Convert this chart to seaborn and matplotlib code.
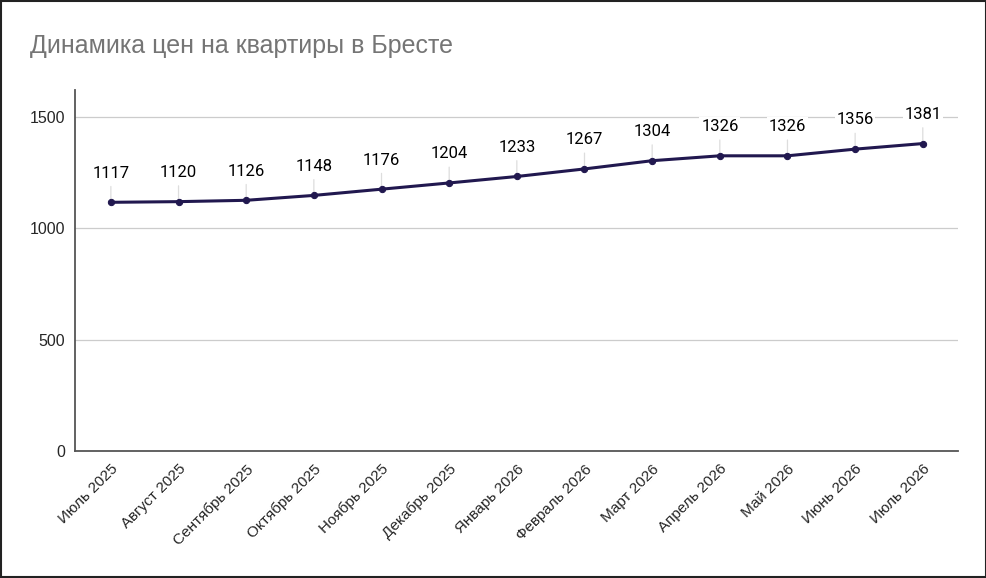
import matplotlib
matplotlib.use("Agg")
import matplotlib.pyplot as plt
import seaborn as sns
import pandas as pd

# ---------------------------------------------------------
# Data
# ---------------------------------------------------------
months = [
    "Июль 2025", "Август 2025", "Сентябрь 2025", "Октябрь 2025",
    "Ноябрь 2025", "Декабрь 2025", "Январь 2026", "Февраль 2026",
    "Март 2026", "Апрель 2026", "Май 2026", "Июнь 2026", "Июль 2026",
]
prices = [1117, 1120, 1126, 1148, 1176, 1204, 1233, 1267, 1304, 1326, 1326, 1356, 1381]
y_ticks = [0, 500, 1000, 1500]

df = pd.DataFrame({"month": months, "price": prices})
df["x"] = range(len(df))

sns.set_theme(style="white")
plt.rcParams["font.family"] = ["Liberation Sans", "DejaVu Sans"]

line_color = "#21184f"

fig = plt.figure(figsize=(9.87, 5.78), dpi=100)
ax = fig.add_axes([0.076, 0.22, 0.8946, 0.624])

sns.lineplot(data=df, x="x", y="price", ax=ax, color=line_color,
             linewidth=2.2, marker="o", markersize=4.5,
             markeredgecolor=line_color, zorder=3)

# data labels with leader lines
for xi, yi in zip(df["x"], df["price"]):
    ax.annotate(str(yi), xy=(xi, yi), xytext=(0, 21), textcoords="offset points",
                ha="center", va="center", fontsize=12, family="Roboto",
                color="black",
                bbox=dict(boxstyle="square,pad=0.1", fc="white", ec="none"),
                arrowprops=dict(arrowstyle="-", color="#dddddd", lw=0.9,
                                shrinkA=3, shrinkB=0),
                zorder=2)

ax.set_xlim(-0.53, 12.52)
ax.set_ylim(0, 1621)
ax.set_yticks(y_ticks)
ax.set_yticklabels([str(v) for v in y_ticks], fontsize=11.5)
ax.set_xticks(df["x"])
ax.set_xticklabels(months, rotation=45, ha="right", rotation_mode="anchor", fontsize=11)
ax.tick_params(axis="y", length=0, pad=7)
ax.tick_params(axis="x", length=0, pad=8)
ax.set_xlabel("")
ax.set_ylabel("")

for v in y_ticks[1:]:
    ax.axhline(v, color="#cccccc", lw=0.9, zorder=0)

for side in ["top", "right"]:
    ax.spines[side].set_visible(False)
for side in ["left", "bottom"]:
    ax.spines[side].set_color("#555555")
    ax.spines[side].set_linewidth(1.3)

fig.text(0.0304, 0.92, "Динамика цен на квартиры в Бресте", fontsize=18,
         color="#757575", ha="left", va="center")

# outer border
fig.patches.append(plt.Rectangle((0.001, 0.001), 0.998, 0.998, transform=fig.transFigure,
                                 fill=False, ec="#222222", lw=1.5))

fig.savefig("out.png", dpi=100)
